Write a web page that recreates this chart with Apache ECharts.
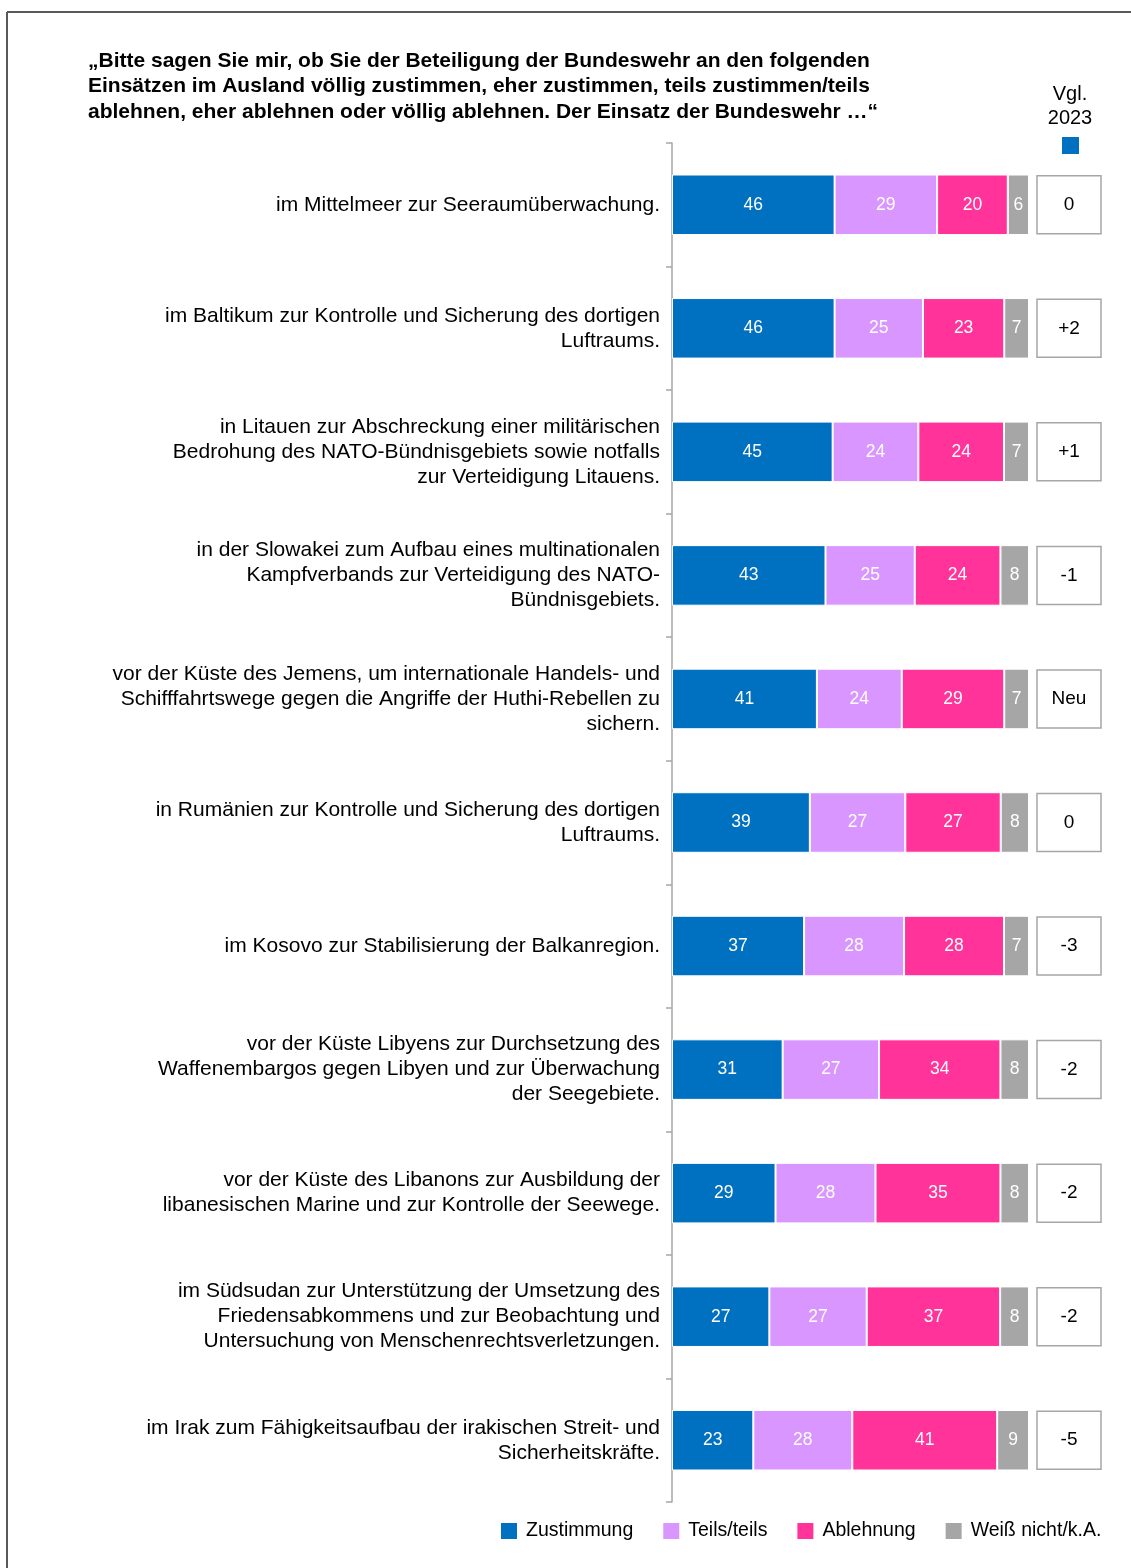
<!DOCTYPE html>
<html>
<head>
<meta charset="utf-8">
<script src="https://cdn.jsdelivr.net/npm/echarts@6/dist/echarts.min.js"></script>
<style>
  html, body { margin: 0; padding: 0; background: #fff; }
  #chart { width: 1131px; height: 1568px; }
</style>
</head>
<body>
<div id="chart"></div>
<script>
var categories = [
    'im Mittelmeer zur Seeraumüberwachung.',
    'im Baltikum zur Kontrolle und Sicherung des dortigen\nLuftraums.',
    'in Litauen zur Abschreckung einer militärischen\nBedrohung des NATO-Bündnisgebiets sowie notfalls\nzur Verteidigung Litauens.',
    'in der Slowakei zum Aufbau eines multinationalen\nKampfverbands zur Verteidigung des NATO-\nBündnisgebiets.',
    'vor der Küste des Jemens, um internationale Handels- und\nSchifffahrtswege gegen die Angriffe der Huthi-Rebellen zu\nsichern.',
    'in Rumänien zur Kontrolle und Sicherung des dortigen\nLuftraums.',
    'im Kosovo zur Stabilisierung der Balkanregion.',
    'vor der Küste Libyens zur Durchsetzung des\nWaffenembargos gegen Libyen und zur Überwachung\nder Seegebiete.',
    'vor der Küste des Libanons zur Ausbildung der\nlibanesischen Marine und zur Kontrolle der Seewege.',
    'im Südsudan zur Unterstützung der Umsetzung des\nFriedensabkommens und zur Beobachtung und\nUntersuchung von Menschenrechtsverletzungen.',
    'im Irak zum Fähigkeitsaufbau der irakischen Streit- und\nSicherheitskräfte.'
]
var zustimmung = [46, 46, 45, 43, 41, 39, 37, 31, 29, 27, 23]
var teils = [29, 25, 24, 25, 24, 27, 28, 27, 28, 27, 28]
var ablehnung = [20, 23, 24, 24, 29, 27, 28, 34, 35, 37, 41]
var weissNicht = [6, 7, 7, 8, 7, 8, 7, 8, 8, 8, 9]
var vgl2023 = ['0', '+2', '+1', '-1', 'Neu', '0', '-3', '-2', '-2', '-2', '-5']

var seriesNames = ['Zustimmung', 'Teils/teils', 'Ablehnung', 'Weiß nicht/k.A.']
var seriesValues = [zustimmung, teils, ablehnung, weissNicht]
var colors = ['#0070C0', '#DA96FF', '#FF3399', '#A6A6A6']
var font = 'Arial, "Liberation Sans", sans-serif'

// bars drawn as shares of each row's total so all rows end at 100
var rowTotals = categories.map(function (c, i) {
    return seriesValues.reduce(function (s, arr) { return s + arr[i] }, 0)
})

var myChart = echarts.init(document.getElementById('chart'))

var barSeries = seriesNames.map(function (name, k) {
    return {
        name: name,
        type: 'bar',
        stack: 'total',
        barWidth: '49%',
        itemStyle: { color: colors[k], borderColor: '#fff', borderWidth: 1 },
        label: {
            show: true,
            position: 'inside',
            color: '#fff',
            fontSize: 17.5,
            fontFamily: font,
            formatter: function (p) { return seriesValues[k][p.dataIndex] }
        },
        data: seriesValues[k].map(function (v, i) { return v / rowTotals[i] * 100 })
    }
})

var vglSeries = {
    type: 'custom',
    name: 'Vgl',
    clip: false,
    silent: true,
    encode: { x: 0, y: 1 },
    data: vgl2023.map(function (d, i) { return [100, i] }),
    renderItem: function (params, api) {
        var pt = api.coord([100, api.value(1)])
        var x = pt[0] + 8
        return {
            type: 'group',
            children: [
                {
                    type: 'rect',
                    shape: { x: x, y: pt[1] - 29, width: 64, height: 58 },
                    style: { fill: '#fff', stroke: '#A6A6A6', lineWidth: 1.5 }
                },
                {
                    type: 'text',
                    style: {
                        x: x + 32, y: pt[1],
                        text: vgl2023[params.dataIndex],
                        align: 'center', verticalAlign: 'middle',
                        fill: '#000', fontSize: 19, fontFamily: font
                    }
                }
            ]
        }
    }
}

var option = {
    animation: false,
    backgroundColor: '#fff',
    title: {
        text: '„Bitte sagen Sie mir, ob Sie der Beteiligung der Bundeswehr an den folgenden\nEinsätzen im Ausland völlig zustimmen, eher zustimmen, teils zustimmen/teils\nablehnen, eher ablehnen oder völlig ablehnen. Der Einsatz der Bundeswehr …“',
        left: 83,
        top: 43,
        textStyle: { fontSize: 21, fontWeight: 'bold', color: '#000', lineHeight: 25.5, fontFamily: font }
    },
    legend: {
        data: seriesNames,
        left: 501,
        top: 1521,
        padding: 0,
        icon: 'rect',
        itemWidth: 16,
        itemHeight: 16,
        itemGap: 30,
        itemStyle: { borderWidth: 0 },
        textStyle: { fontSize: 19.5, color: '#000', fontFamily: font, padding: [0, 0, 0, 4] }
    },
    grid: { left: 672, right: 102, top: 143, bottom: 66, containLabel: false },
    xAxis: { type: 'value', min: 0, max: 100, show: false },
    yAxis: {
        type: 'category',
        inverse: true,
        data: categories,
        axisLine: { show: true, lineStyle: { color: '#A6A6A6', width: 1.5 } },
        axisTick: { show: true, length: 6, lineStyle: { color: '#A6A6A6', width: 1.5 } },
        axisLabel: { margin: 12, fontSize: 21, lineHeight: 25, color: '#000', align: 'right', fontFamily: font, padding: [3, 0, 0, 0] }
    },
    graphic: [
        { type: 'line', shape: { x1: 7, y1: 12, x2: 1131, y2: 12 }, style: { stroke: '#595959', lineWidth: 2 } },
        { type: 'line', shape: { x1: 7, y1: 12, x2: 7, y2: 1568 }, style: { stroke: '#595959', lineWidth: 2 } },
        {
            type: 'text', x: 1070, y: 82,
            style: { text: 'Vgl.\n2023', align: 'center', verticalAlign: 'top', lineHeight: 24, fill: '#000', font: '20px ' + font }
        },
        { type: 'rect', shape: { x: 1062, y: 137, width: 17, height: 17 }, style: { fill: '#0070C0' } }
    ],
    series: barSeries.concat([vglSeries])
}

myChart.setOption(option)
</script>
</body>
</html>
